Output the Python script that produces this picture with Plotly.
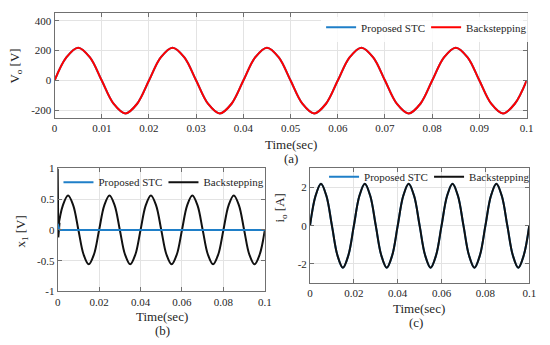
import plotly.graph_objects as go

# ---- data ----
t = [0.0, 0.0025, 0.005, 0.0075, 0.01, 0.0125, 0.015, 0.0175,
     0.02, 0.0225, 0.025, 0.0275, 0.03, 0.0325, 0.035, 0.0375,
     0.04, 0.0425, 0.045, 0.0475, 0.05, 0.0525, 0.055, 0.0575,
     0.06, 0.0625, 0.065, 0.0675, 0.07, 0.0725, 0.075, 0.0775,
     0.08, 0.0825, 0.085, 0.0875, 0.09, 0.0925, 0.095, 0.0975, 0.1]

vo_back = [0, 155, 220, 155, 0, -155, -220, -155,
           0, 155, 220, 155, 0, -155, -220, -155,
           0, 155, 220, 155, 0, -155, -220, -155,
           0, 155, 220, 155, 0, -155, -220, -155,
           0, 155, 220, 155, 0, -155, -220, -155, 0]

x1_back = [0, 0.40, 0.56, 0.40, 0, -0.40, -0.56, -0.40,
           0, 0.40, 0.56, 0.40, 0, -0.40, -0.56, -0.40,
           0, 0.40, 0.56, 0.40, 0, -0.40, -0.56, -0.40,
           0, 0.40, 0.56, 0.40, 0, -0.40, -0.56, -0.40,
           0, 0.40, 0.56, 0.40, 0, -0.40, -0.56, -0.40, 0]
x1_back_start_t = [0.0, 0.0003, 0.0009]
x1_back_start_v = [1.0, -0.12, 0.12]

x1_stc_t = [0.0, 0.0004, 0.0008, 0.0012, 0.002, 0.1]
x1_stc_v = [0.10, 0.04, 0.01, 0.0, 0.0, 0.0]

io_back = [0, 1.55, 2.2, 1.55, 0, -1.55, -2.2, -1.55,
           0, 1.55, 2.2, 1.55, 0, -1.55, -2.2, -1.55,
           0, 1.55, 2.2, 1.55, 0, -1.55, -2.2, -1.55,
           0, 1.55, 2.2, 1.55, 0, -1.55, -2.2, -1.55,
           0, 1.55, 2.2, 1.55, 0, -1.55, -2.2, -1.55, 0]
io_stc = io_back

# ---- styles ----
W, H = 550, 345
FONT = "Liberation Serif, Times New Roman, serif"
BLUE = "#1f7fc8"
RED = "#ff0000"
BLACK = "#111111"
GRID = "#e3e3e3"
AXC = "#707070"
TXT = "#262626"


def px(x):
    return x / W


def py(y):
    return 1 - y / H


fig = go.Figure()

# (a)
fig.add_trace(go.Scatter(x=t, y=vo_back, mode="lines", name="Proposed STC",
                         line=dict(color=BLUE, width=2, shape="spline"),
                         xaxis="x", yaxis="y", legend="legend"))
fig.add_trace(go.Scatter(x=t, y=vo_back, mode="lines", name="Backstepping",
                         line=dict(color=RED, width=2, shape="spline"),
                         xaxis="x", yaxis="y", legend="legend"))

# (b)
fig.add_trace(go.Scatter(x=t, y=x1_back, mode="lines", name="Backstepping",
                         line=dict(color=BLACK, width=2, shape="spline"),
                         xaxis="x2", yaxis="y2", showlegend=False))
fig.add_trace(go.Scatter(x=x1_back_start_t, y=x1_back_start_v, mode="lines",
                         line=dict(color=BLACK, width=2),
                         xaxis="x2", yaxis="y2", showlegend=False))
fig.add_trace(go.Scatter(x=x1_stc_t, y=x1_stc_v, mode="lines", name="Proposed STC",
                         line=dict(color=BLUE, width=2),
                         xaxis="x2", yaxis="y2", legend="legend2"))
fig.add_trace(go.Scatter(x=[None], y=[None], mode="lines", name="Backstepping",
                         line=dict(color=BLACK, width=2),
                         xaxis="x2", yaxis="y2", legend="legend2"))

# (c)
fig.add_trace(go.Scatter(x=t, y=io_stc, mode="lines", name="Proposed STC",
                         line=dict(color=BLUE, width=2, shape="spline"),
                         xaxis="x3", yaxis="y3", legend="legend3"))
fig.add_trace(go.Scatter(x=t, y=io_back, mode="lines", name="Backstepping",
                         line=dict(color=BLACK, width=2, shape="spline"),
                         xaxis="x3", yaxis="y3", legend="legend3"))

axis_common = dict(showgrid=True, gridcolor=GRID, gridwidth=1, zeroline=False,
                   showline=True, linecolor=AXC, linewidth=1, mirror="ticks",
                   ticks="inside", ticklen=4, tickcolor=AXC,
                   tickfont=dict(family=FONT, size=11, color=TXT))

leg_font = dict(family=FONT, size=11, color=TXT)
fig.update_layout(
    width=W, height=H, margin=dict(l=0, r=0, t=0, b=0),
    paper_bgcolor="white", plot_bgcolor="white",
    font=dict(family=FONT, color=TXT, size=11),
    xaxis=dict(domain=[px(52.5), px(533.3)], range=[0, 0.1], dtick=0.01,
               tick0=0, anchor="y", **axis_common),
    yaxis=dict(domain=[py(116), py(7.5)], range=[-250, 450],
               tickvals=[-200, 0, 200, 400], ticktext=["-200", "0", "200", "400"],
               anchor="x", **axis_common),
    xaxis2=dict(domain=[px(55.7), px(266.7)], range=[0, 0.1], dtick=0.02,
                tick0=0, anchor="y2", **axis_common),
    yaxis2=dict(domain=[py(295.7), py(168.3)], range=[-1, 1],
                tickvals=[-1, -0.5, 0, 0.5, 1], ticktext=["-1", "-0.5", "0", "0.5", "1"],
                anchor="x2", **axis_common),
    xaxis3=dict(domain=[px(312.7), px(536)], range=[0, 0.1], dtick=0.02,
                tick0=0, anchor="y3", **axis_common),
    yaxis3=dict(domain=[py(287), py(168.2)], range=[-3, 3],
                tickvals=[-2, 0, 2], ticktext=["-2", "0", "2"],
                anchor="x3", **axis_common),
    legend=dict(orientation="h", x=px(324), xanchor="left", y=py(22), yanchor="middle",
                bgcolor="rgba(255,255,255,0.85)", font=leg_font, tracegroupgap=0,
                entrywidth=60, entrywidthmode="pixels"),
    legend2=dict(orientation="h", x=px(56.5), xanchor="left", y=py(182.5), yanchor="middle",
                 bgcolor="rgba(255,255,255,0)", font=leg_font,
                 entrywidth=60, entrywidthmode="pixels"),
    legend3=dict(orientation="h", x=px(327), xanchor="left", y=py(177), yanchor="middle",
                 bgcolor="rgba(255,255,255,0)", font=leg_font,
                 entrywidth=60, entrywidthmode="pixels"),
)

ann = [
    ("Time(sec)", 293, 143, 0, 13),
    ("(a)", 293, 158, 0, 13),
    ("Time(sec)", 162, 322, 0, 13),
    ("(b)", 162, 336, 0, 13),
    ("Time(sec)", 424, 313, 0, 13),
    ("(c)", 421, 327.5, 0, 13),
    ("V<sub>o</sub> [V]", 13, 62, -90, 13),
    ("x<sub>1</sub> [V]", 19, 234, -90, 13),
    ("i<sub>o</sub> [A]", 283, 209, -90, 13),
]
for text, x, y, ang, size in ann:
    fig.add_annotation(text=text, x=px(x), y=py(y), xref="paper", yref="paper",
                       showarrow=False, textangle=ang, xanchor="center", yanchor="middle",
                       font=dict(family=FONT, size=size, color=TXT))

fig.write_html("out.html", config={"displayModeBar": False},
               post_script="document.body.style.margin='0';document.body.style.padding='0';document.documentElement.style.overflow='hidden';")
